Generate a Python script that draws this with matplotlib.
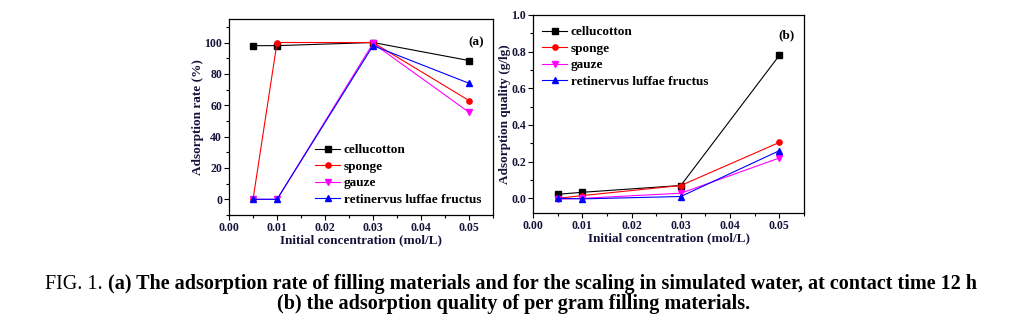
import numpy as np
import matplotlib.pyplot as plt
from matplotlib.ticker import MultipleLocator, FormatStrFormatter

plt.rcParams['font.family'] = ['Liberation Serif', 'DejaVu Serif']
plt.rcParams['font.weight'] = 'bold'

conc = [0.005, 0.01, 0.03, 0.05]
materials = ["cellucotton", "sponge", "gauze", "retinervus luffae fructus"]
colors = ["black", "red", "magenta", "blue"]
markers = ["s", "o", "v", "^"]

# adsorption rate (%)
rate_cellucotton = [98, 98, 100, 88.5]
rate_sponge = [0, 100, 100, 63]
rate_gauze = [0, 0, 99.5, 55.5]
rate_luffa = [0, 0, 98, 74]

# adsorption quality (g/g)
qual_cellucotton = [0.022, 0.033, 0.07, 0.78]
qual_sponge = [0.0, 0.015, 0.07, 0.305]
qual_gauze = [-0.005, 0.0, 0.028, 0.22]
qual_luffa = [0.0, -0.003, 0.01, 0.26]

rates = [rate_cellucotton, rate_sponge, rate_gauze, rate_luffa]
quals = [qual_cellucotton, qual_sponge, qual_gauze, qual_luffa]

tc = "#14143a"

fig = plt.figure(figsize=(10.28, 3.28), dpi=100)
ax1 = fig.add_axes([0.2228, 0.3445, 0.2568, 0.5976])
ax2 = fig.add_axes([0.5185, 0.3506, 0.2636, 0.6037])


def style(ax):
    ax.tick_params(which="both", direction="out", top=False, right=False,
                   labelsize=8.5, colors="black", labelcolor=tc, width=0.8, pad=1.5)
    ax.tick_params(which="major", length=3.5)
    ax.tick_params(which="minor", length=2)
    for s in ax.spines.values():
        s.set_linewidth(0.9)
    ax.xaxis.set_major_locator(MultipleLocator(0.01))
    ax.xaxis.set_minor_locator(MultipleLocator(0.005))
    ax.xaxis.set_major_formatter(FormatStrFormatter("%.2f"))
    ax.set_xlim(0, 0.055)
    ax.set_xlabel("Initial concentration (mol/L)", fontsize=9.5, color=tc,
                  fontweight="bold", labelpad=0)


legend_kw = dict(frameon=False, fontsize=9.5, numpoints=1, handlelength=1.9,
                 handletextpad=0.25, labelspacing=0.32, borderaxespad=0.3)

for vals, c, m, name in zip(rates, colors, markers, materials):
    ax1.plot(conc, vals, color=c, marker=m, markersize=3.8, linewidth=0.8, label=name)
style(ax1)
ax1.set_ylim(-10, 115)
ax1.yaxis.set_major_locator(MultipleLocator(20))
ax1.yaxis.set_minor_locator(MultipleLocator(10))
ax1.set_ylabel("Adsorption rate (%)", fontsize=9.5, color=tc, fontweight="bold", labelpad=0)
ax1.text(0.965, 0.88, "(a)", transform=ax1.transAxes, ha="right", va="center", fontsize=9.5)
ax1.legend(loc="lower right", bbox_to_anchor=(0.99, 0.0), **legend_kw)

for vals, c, m, name in zip(quals, colors, markers, materials):
    ax2.plot(conc, vals, color=c, marker=m, markersize=3.8, linewidth=0.8, label=name)
style(ax2)
ax2.set_ylim(-0.08, 1.0)
ax2.yaxis.set_major_locator(MultipleLocator(0.2))
ax2.yaxis.set_minor_locator(MultipleLocator(0.1))
ax2.yaxis.set_major_formatter(FormatStrFormatter("%.1f"))
ax2.set_ylabel("Adsorption quality (g/lg)", fontsize=9.5, color=tc, fontweight="bold", labelpad=0)
ax2.text(0.965, 0.9, "(b)", transform=ax2.transAxes, ha="right", va="center", fontsize=9.5)
ax2.legend(loc="upper left", bbox_to_anchor=(0.0, 0.99), **legend_kw)

# figure caption
cap_size = 14.5
t1 = fig.text(0.044, 0.134, "FIG. 1. ", fontsize=cap_size, fontweight="normal", va="center", ha="left")
plt.annotate("(a) The adsorption rate of filling materials and for the scaling in simulated water, at contact time 12 h",
             xy=(1, 0.5), xycoords=t1, va="center", ha="left", fontsize=cap_size, fontweight="bold")
fig.text(0.5, 0.073, "(b) the adsorption quality of per gram filling materials.",
         fontsize=cap_size, fontweight="bold", va="center", ha="center")

fig.savefig("out.png", dpi=100)
